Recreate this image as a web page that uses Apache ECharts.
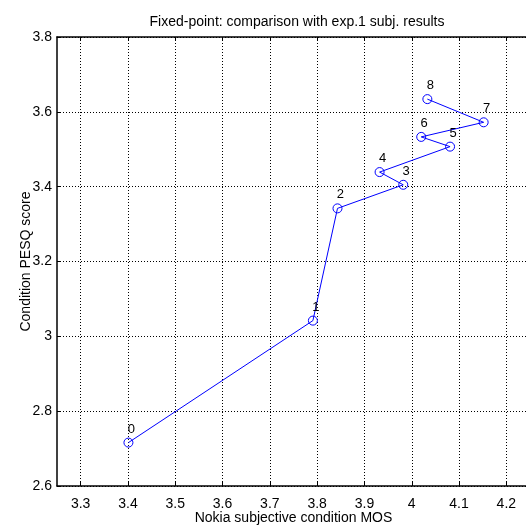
<!DOCTYPE html>
<html>
<head>
<meta charset="utf-8">
<script src="https://cdn.jsdelivr.net/npm/echarts@6/dist/echarts.min.js"></script>
<style>html,body{margin:0;padding:0;background:#fff}#c{width:526px;height:526px}</style>
</head>
<body>
<div id="c"></div>
<script>
var conditionLabels = ['0', '1', '2', '3', '4', '5', '6', '7', '8'];
var nokiaMOS = [3.401, 3.791, 3.843, 3.982, 3.932, 4.081, 4.020, 4.152, 4.033];
var pesqScore = [2.716, 3.042, 3.342, 3.405, 3.439, 3.507, 3.533, 3.572, 3.634];
var xTicks = [3.3, 3.4, 3.5, 3.6, 3.7, 3.8, 3.9, 4.0, 4.1, 4.2];
var yTicks = [2.6, 2.8, 3.0, 3.2, 3.4, 3.6, 3.8];

var FONT = 'Liberation Sans, Arial, Helvetica, sans-serif';
var data = nokiaMOS.map(function (x, i) { return [x, pesqScore[i], conditionLabels[i]]; });

function fmt(v) { return String(Math.round(v * 10) / 10); }

var axisLineStyle = { show: true, onZero: false, lineStyle: { color: '#000', width: 1.5 } };

var chart = echarts.init(document.getElementById('c'), null, { renderer: 'canvas' });
chart.setOption({
  animation: false,
  backgroundColor: '#fff',
  textStyle: { fontFamily: FONT },
  title: {
    text: 'Fixed-point: comparison with exp.1 subj. results',
    left: 292, top: 10, textAlign: 'center',
    textStyle: { fontFamily: FONT, fontSize: 14, fontWeight: 'normal', color: '#000' }
  },
  grid: { left: 57, top: 37, width: 473, height: 449, containLabel: false, outerBoundsMode: 'none' },
  xAxis: [{
    type: 'value', position: 'bottom', min: 3.25, max: 4.25,
    name: 'Nokia subjective condition MOS', nameLocation: 'middle', nameGap: 25, nameMoveOverlap: false,
    nameTextStyle: { fontFamily: FONT, fontSize: 14, color: '#000' },
    axisLine: axisLineStyle,
    axisTick: { show: true, inside: true, length: 4, customValues: xTicks, lineStyle: { color: '#000' } },
    axisLabel: { customValues: xTicks, formatter: fmt, margin: 11, fontFamily: FONT, fontSize: 14, color: '#000' },
    splitLine: { show: true, lineStyle: { color: '#000', width: 1, type: [1, 2] } }
  }, {
    type: 'value', position: 'top', min: 3.25, max: 4.25,
    axisLine: axisLineStyle,
    axisTick: { show: true, inside: true, length: 4, customValues: xTicks, lineStyle: { color: '#000' } },
    axisLabel: { show: false },
    splitLine: { show: false }
  }],
  yAxis: [{
    type: 'value', position: 'left', min: 2.6, max: 3.8, interval: 0.2,
    name: 'Condition PESQ score', nameLocation: 'middle', nameGap: 24, nameMoveOverlap: false,
    nameTextStyle: { fontFamily: FONT, fontSize: 14, color: '#000' },
    axisLine: axisLineStyle,
    axisTick: { show: true, inside: true, length: 4, customValues: yTicks, lineStyle: { color: '#000' } },
    axisLabel: { customValues: yTicks, formatter: fmt, margin: 5, fontFamily: FONT, fontSize: 14, color: '#000' },
    splitLine: { show: true, lineStyle: { color: '#000', width: 1, type: [1, 2] } }
  }, {
    type: 'value', position: 'right', min: 2.6, max: 3.8, interval: 0.2,
    axisLine: axisLineStyle,
    axisTick: { show: true, inside: true, length: 4, lineStyle: { color: '#000' } },
    axisLabel: { show: false },
    splitLine: { show: false }
  }],
  series: [{
    type: 'line',
    data: data,
    symbol: 'circle',
    symbolSize: 9,
    showAllSymbol: true,
    lineStyle: { color: '#0000ff', width: 1 },
    itemStyle: { color: 'rgba(0,0,0,0)', borderColor: '#0000ff', borderWidth: 1 },
    label: {
      show: true, position: 'top', distance: 2, offset: [3, 0],
      formatter: function (p) { return p.data[2]; },
      fontFamily: FONT, fontSize: 13, color: '#000'
    },
    emphasis: { disabled: true }
  }]
});
</script>
</body>
</html>
